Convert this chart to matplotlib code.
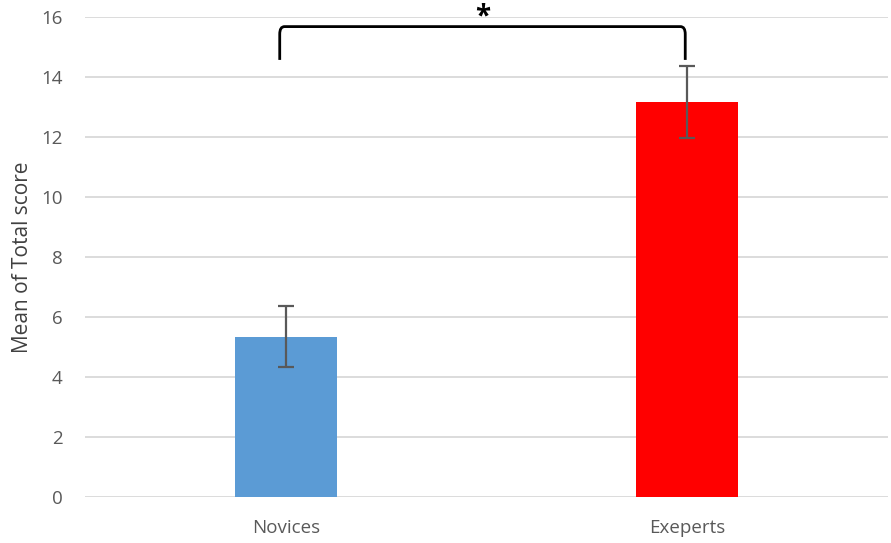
import matplotlib.pyplot as plt
from matplotlib.path import Path
from matplotlib.patches import PathPatch

groups = ["Novices", "Exeperts"]
means = [5.35, 13.18]
errors = [1.02, 1.2]
colors = ["#5b9bd5", "#ff0000"]
bracket_low = 14.57
bracket_high = 15.68
star_y = 16.0
star_label = "*"

plt.rcParams['font.family'] = ['Open Sans', 'DejaVu Sans']

fig = plt.figure(figsize=(8.91, 5.43), dpi=100)
ax = fig.add_axes([85 / 891, 1 - 497 / 543, 803 / 891, 480 / 543])

x = list(range(len(groups)))
ax.bar(x, means, width=0.255, color=colors, zorder=2)
ax.errorbar(x, means, yerr=errors, fmt="none", ecolor="#595959",
            elinewidth=1.6, capsize=6, capthick=1.6, zorder=3)

ax.set_xlim(-0.5, len(groups) - 0.5)
ax.set_ylim(0, 16)
ax.set_yticks(range(0, 17, 2))
ax.set_xticks(x)
ax.set_xticklabels(groups)
ax.grid(axis="y", color="#d9d9d9", linewidth=1.3, zorder=0)
ax.tick_params(length=0, labelsize=13.5, colors="#595959")
ax.tick_params(axis="y", pad=16)
ax.tick_params(axis="x", pad=16)
for s in ax.spines.values():
    s.set_visible(False)
ax.set_ylabel("Mean of Total score", fontsize=15, color="#404040", labelpad=6)

# significance bracket
x0 = x[0] - 0.015
x1 = x[1] - 0.005
rx, ry = 0.012, 0.25
verts = [(x0, bracket_low), (x0, bracket_high - ry), (x0, bracket_high),
         (x0 + rx, bracket_high), (x1 - rx, bracket_high), (x1, bracket_high),
         (x1, bracket_high - ry), (x1, bracket_low)]
codes = [Path.MOVETO, Path.LINETO, Path.CURVE3, Path.CURVE3, Path.LINETO,
         Path.CURVE3, Path.CURVE3, Path.LINETO]
ax.add_patch(PathPatch(Path(verts, codes), fill=False, edgecolor="black",
                       linewidth=2, clip_on=False, zorder=4))
ax.text((x0 + x1) / 2, star_y, star_label, ha="center", va="center",
        fontsize=20, fontweight="bold", clip_on=False)

fig.savefig("out.png", dpi=100)
